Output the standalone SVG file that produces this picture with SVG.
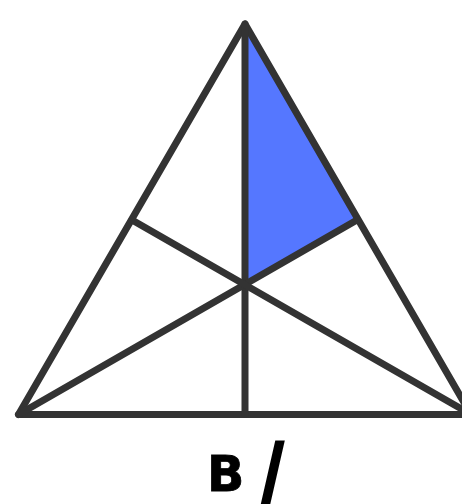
<svg xmlns="http://www.w3.org/2000/svg" width="462" height="504" viewBox="0 0 462 504">
<style>
.ln{fill:none;stroke:#333333;stroke-width:7;stroke-linejoin:round;stroke-linecap:round}
.fill{fill:#5577ff;stroke:none}
.lbl{font-family:"DejaVu Sans",sans-serif;font-weight:bold;fill:#000}
</style>
<rect width="462" height="504" fill="#ffffff"/>
<g id="shaded"><polygon class="fill" points="245,24 357,220 245,284"/></g>
<g id="connectors">
<polygon class="ln" points="245,24 18.5,414.5 471,414.5"/>
<line class="ln" x1="245" y1="24" x2="245" y2="414.5"/>
<line class="ln" x1="18.5" y1="414.5" x2="357" y2="220"/>
<line class="ln" x1="471" y1="414.5" x2="132" y2="220"/>
</g>
<g id="label">
<text class="lbl" x="207" y="491" font-size="49" stroke="#000" stroke-width="0.8">B</text>
<text class="lbl" transform="translate(259,509) scale(0.74,1)" font-size="90" stroke="#000" stroke-width="3">/</text>
</g>
</svg>
